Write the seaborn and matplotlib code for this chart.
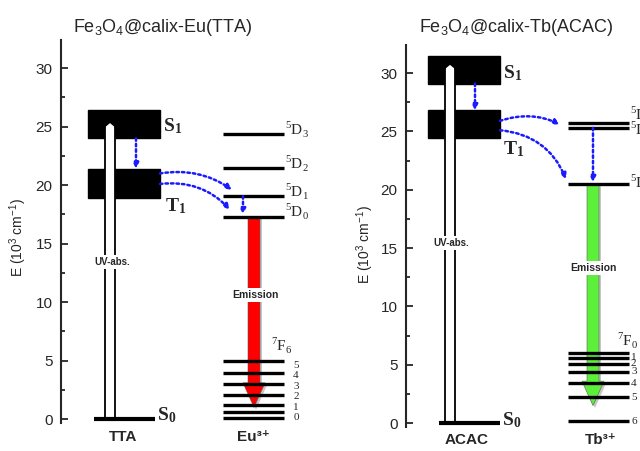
import numpy as np
import matplotlib
matplotlib.use('Agg')
import matplotlib.pyplot as plt
from matplotlib.patches import Rectangle
from matplotlib.ticker import MultipleLocator
import seaborn as sns

# energies in 10^3 cm^-1
eu_s1 = [24.0, 26.4]
eu_t1 = [18.9, 21.4]
eu_uv_top = 25.4
eu_d = [24.35, 21.45, 19.05, 17.3]
eu_d_names = ['3', '2', '1', '0']
eu_f = [4.96, 3.93, 3.0, 2.05, 1.2, 0.6, 0.1]
eu_emission = [17.3, 1.0]

tb_s1 = [29.1, 31.5]
tb_t1 = [24.4, 26.8]
tb_uv_top = 30.8
tb_d = [25.7, 25.3, 20.5]
tb_d_names = ['2', '3', '4']
tb_f = [6.0, 5.6, 5.1, 4.4, 3.4, 2.2, 0.15]
tb_emission = [20.5, 1.5]

sns.set_style('ticks')
plt.rcParams['font.family'] = ['Liberation Sans', 'DejaVu Sans']
plt.rcParams['mathtext.fontset'] = 'custom'
plt.rcParams['mathtext.rm'] = 'Liberation Serif'
plt.rcParams['mathtext.bf'] = 'Liberation Serif:bold'
plt.rcParams['mathtext.sf'] = 'Liberation Sans'

BLUE = '#1a1aff'
SERIF = 'Liberation Serif'


def dotted(ax, start, end, rad=0.0):
    ax.annotate('', xy=end, xytext=start,
                arrowprops=dict(arrowstyle='-|>', color=BLUE, lw=1.8,
                                linestyle=(0, (1, 1.2)), mutation_scale=8,
                                connectionstyle='arc3,rad=%s' % rad,
                                shrinkA=0, shrinkB=0), zorder=6)


def panel(ax, bx, s1, t1, uv_top, uvx, levels, f_levels, emis, ex, ecol):
    ax.add_patch(Rectangle((bx[0], s1[0]), bx[1] - bx[0], s1[1] - s1[0], color='k', zorder=2))
    ax.add_patch(Rectangle((bx[0], t1[0]), bx[1] - bx[0], t1[1] - t1[0], color='k', zorder=2))
    ax.arrow(uvx, 0, 0, uv_top, width=10, head_width=14, head_length=0.5,
             length_includes_head=True, fc='white', ec='black', lw=1.3, zorder=3)
    ax.hlines(0, 33, 94, color='k', lw=3, zorder=4)
    # emission arrow with shadow
    ax.arrow(ex + 2, emis[0] - 0.2, 0, emis[1] - emis[0], width=12, head_width=22, head_length=2.1,
             length_includes_head=True, fc='0.55', ec='none', alpha=0.5, zorder=2)
    ax.arrow(ex, emis[0], 0, emis[1] - emis[0], width=12, head_width=22, head_length=2.1,
             length_includes_head=True, fc=ecol, ec='0.35', lw=0.4, zorder=3)
    ax.hlines(levels, 162, 223, color='k', lw=2.4, zorder=4)
    ax.hlines(f_levels, 162, 223, color='k', lw=2.4, zorder=4)
    ax.set_ylim(-0.33, 32.4)
    ax.set_xticks([])
    ax.set_yticks(np.arange(0, 31, 5))
    ax.yaxis.set_minor_locator(MultipleLocator(2.5))
    ax.tick_params(axis='y', which='major', direction='in', length=5, width=1.3, labelsize=11, pad=6)
    ax.tick_params(axis='y', which='minor', direction='in', length=3, width=1.3)
    sns.despine(ax=ax, bottom=True)
    ax.spines['left'].set_linewidth(1.5)
    ax.patch.set_alpha(0)


fig = plt.figure(figsize=(6.4, 4.51), dpi=100)
axl = fig.add_axes([61 / 640, 28 / 451, 259 / 640, 383 / 451])
axr = fig.add_axes([406 / 640, 24 / 451, 234 / 640, 382 / 451])

# ---- Eu(TTA)
panel(axl, (27, 99), eu_s1, eu_t1, eu_uv_top, 49, eu_d, eu_f, eu_emission, 193, '#ff0000')
axl.set_xlim(0, 259)
dotted(axl, (75, eu_s1[0]), (75, eu_t1[1]))
dotted(axl, (99, 21.0), (171, 19.6), rad=-0.2)
dotted(axl, (99, 20.1), (169, 17.9), rad=-0.25)
dotted(axl, (182, eu_d[2]), (182, eu_d[3] + 0.2))
axl.text(102, 25.0, r'$\mathbf{S_1}$', fontsize=14, va='center')
axl.text(104, 18.2, r'$\mathbf{T_1}$', fontsize=14, va='center')
axl.text(96, 0.3, r'$\mathbf{S_0}$', fontsize=14, va='center')
for e, n in zip(eu_d, eu_d_names):
    axl.text(224, e + 0.45, r'$^\mathrm{5}\mathrm{D}_\mathrm{%s}$' % n, fontsize=11, va='center')
axl.text(210, 6.3, r'$^\mathrm{7}\mathrm{F}_\mathrm{6}$', fontsize=11, va='center')
for y, n in zip(np.linspace(4.6, 0.1, 6), ['5', '4', '3', '2', '1', '0']):
    axl.text(235, y, n, fontsize=8, family=SERIF, ha='center', va='center')
axl.text(51, 13.4, 'UV-abs.', fontsize=7, weight='bold', ha='center', va='center', zorder=5,
         bbox=dict(fc='white', ec='none', pad=1.5), fontstretch='condensed')
axl.text(194, 10.6, 'Emission', fontsize=7.5, weight='bold', ha='center', va='center', zorder=5,
         bbox=dict(fc='white', ec='none', pad=1.5))
axl.text(62, -1.55, 'TTA', fontsize=11, weight='bold', ha='center', va='center')
axl.text(192, -1.55, 'Eu³⁺', fontsize=11, weight='bold', ha='center', va='center')

# ---- Tb(ACAC)
panel(axr, (22, 94), tb_s1, tb_t1, tb_uv_top, 44, tb_d, tb_f, tb_emission, 187, '#5cf03a')
axr.set_xlim(0, 234)
dotted(axr, (69, tb_s1[0]), (69, tb_t1[1]))
dotted(axr, (94, 25.9), (154, 25.6), rad=-0.2)
dotted(axr, (94, 25.1), (160, 20.9), rad=-0.3)
dotted(axr, (187, tb_d[1]), (187, tb_d[2] + 0.15))
axr.text(97, 30.0, r'$\mathbf{S_1}$', fontsize=14, va='center')
axr.text(97, 23.5, r'$\mathbf{T_1}$', fontsize=14, va='center')
axr.text(96, 0.25, r'$\mathbf{S_0}$', fontsize=14, va='center')
for e, n, off in zip(tb_d, tb_d_names, [0.8, -0.1, 0.2]):
    axr.text(224, e + off, r'$^\mathrm{5}\mathrm{D}_\mathrm{%s}$' % n, fontsize=11, va='center')
axr.text(211, 7.1, r'$^\mathrm{7}\mathrm{F}_\mathrm{0}$', fontsize=11, va='center')
for e, n in zip(tb_f[1:], ['1', '2', '3', '4', '5', '6']):
    axr.text(225, e, n, fontsize=8, family=SERIF, ha='left', va='center')
axr.text(45, 15.4, 'UV-abs.', fontsize=7, weight='bold', ha='center', va='center', zorder=5,
         bbox=dict(fc='white', ec='none', pad=1.5), fontstretch='condensed')
axr.text(187, 13.3, 'Emission', fontsize=7.5, weight='bold', ha='center', va='center', zorder=5,
         bbox=dict(fc='white', ec='none', pad=1.5))
axr.text(61, -1.45, 'ACAC', fontsize=11, weight='bold', ha='center', va='center')
axr.text(195, -1.45, 'Tb³⁺', fontsize=11, weight='bold', ha='center', va='center')

fig.text(163 / 640, 1 - 27 / 451, r'Fe$_\mathsf{3}$O$_\mathsf{4}$@calix-Eu(TTA)', fontsize=13,
         ha='center', va='center')
fig.text(516 / 640, 1 - 27 / 451, r'Fe$_\mathsf{3}$O$_\mathsf{4}$@calix-Tb(ACAC)', fontsize=13,
         ha='center', va='center')
ylab = r'E (10$^\mathsf{3}$ cm$^\mathsf{-1}$)'
fig.text(18 / 640, 1 - 238 / 451, ylab, fontsize=10, rotation=90, ha='center', va='center')
fig.text(365 / 640, 1 - 245 / 451, ylab, fontsize=10, rotation=90, ha='center', va='center')

fig.savefig('out.png', dpi=100)
